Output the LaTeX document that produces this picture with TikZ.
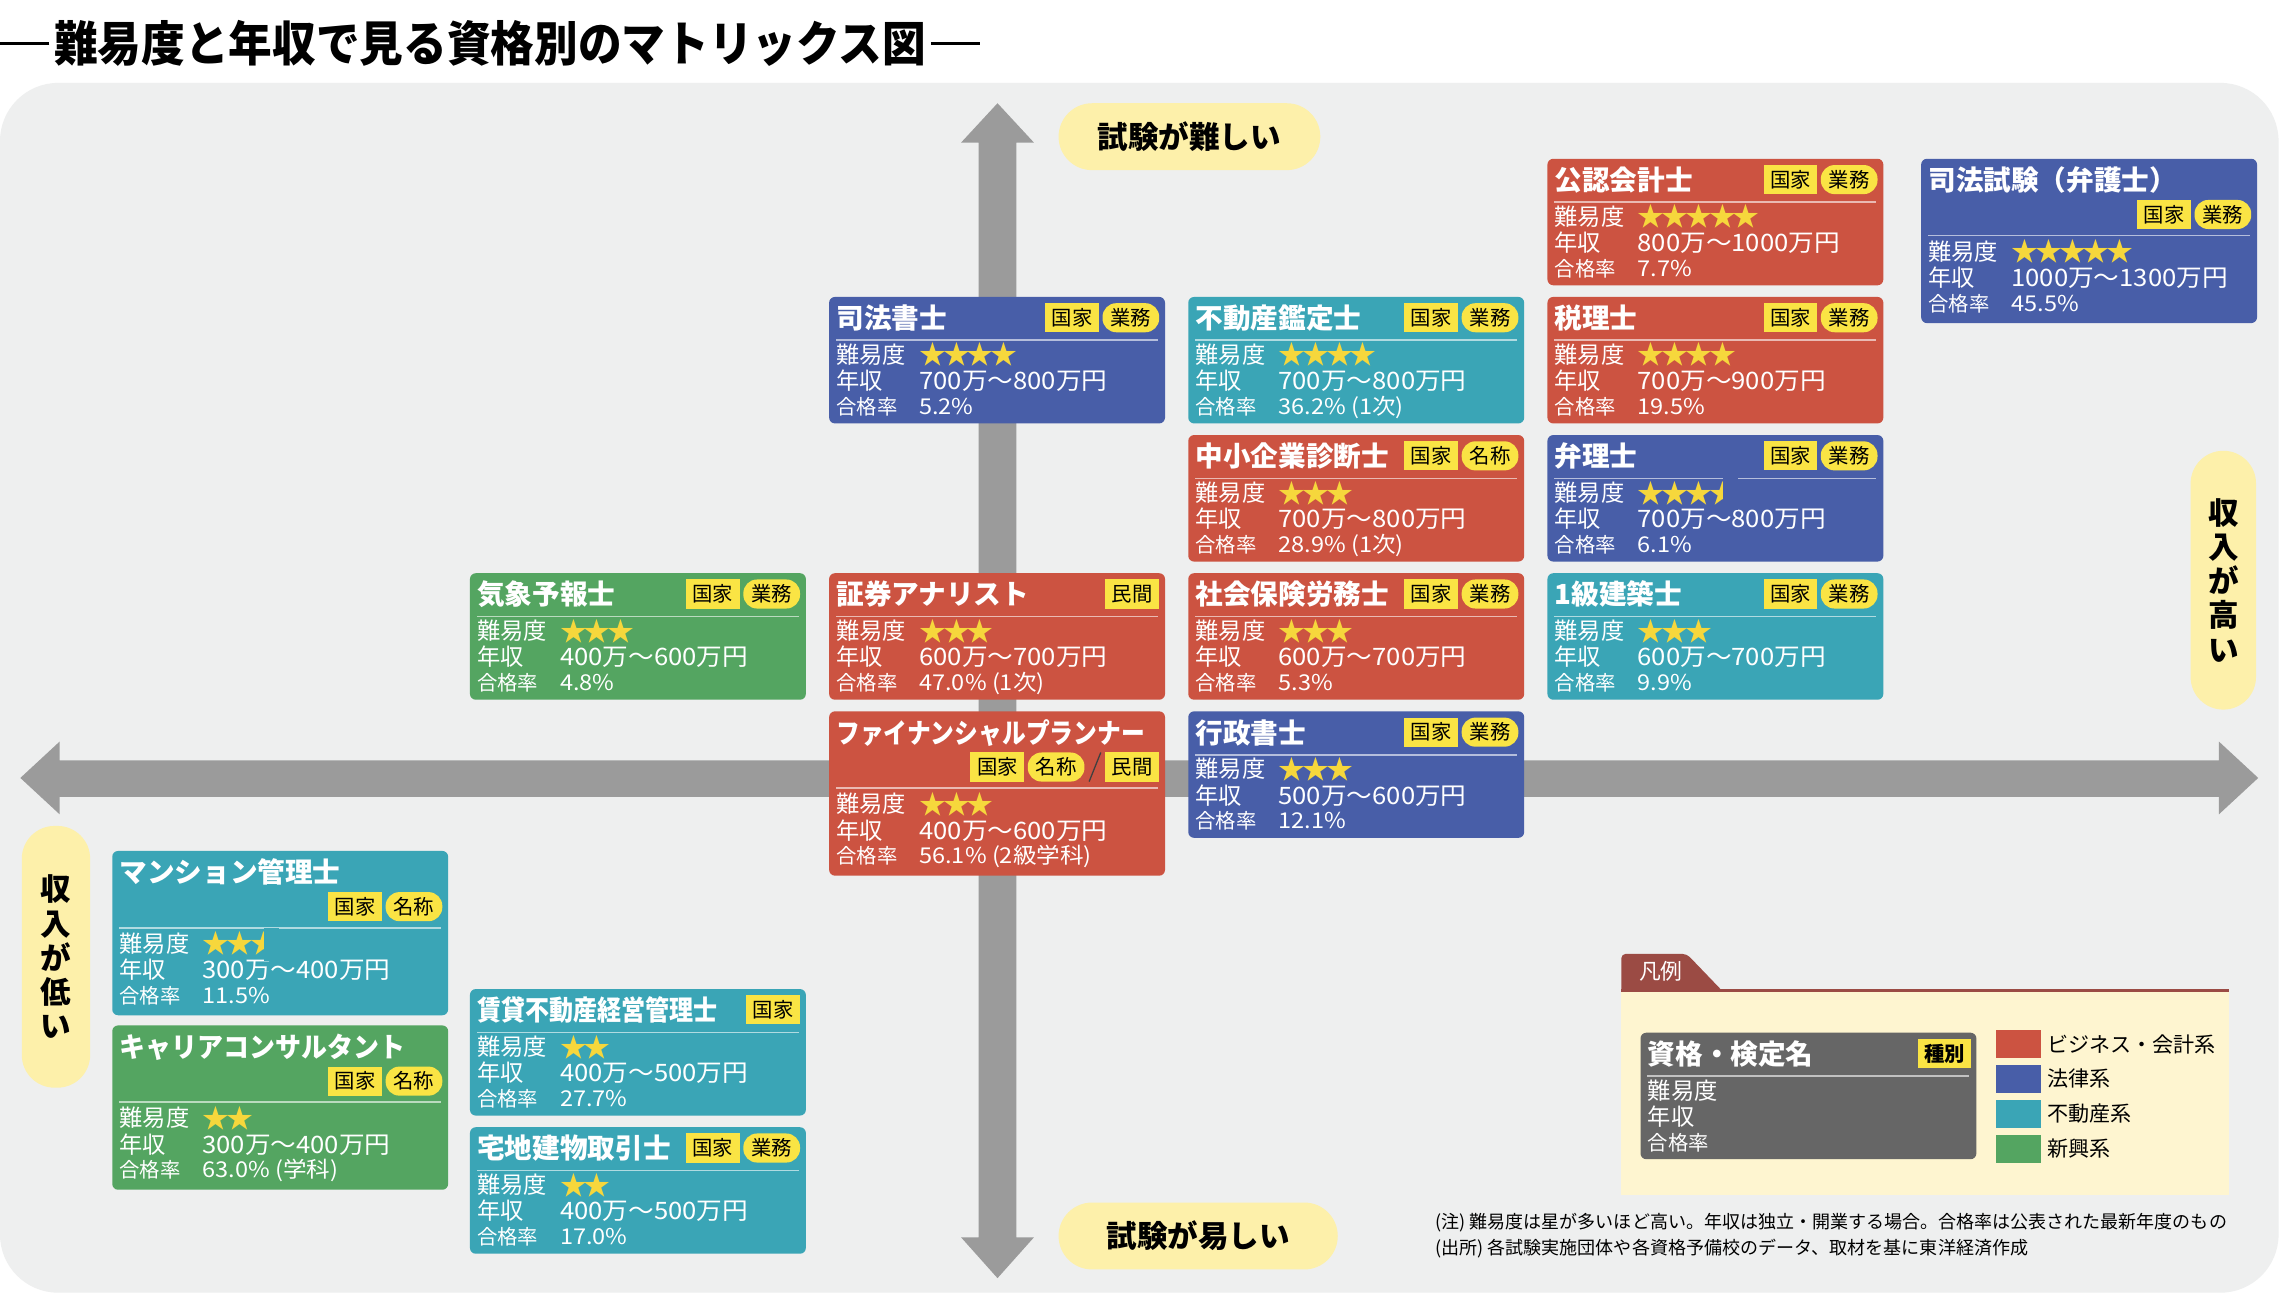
\documentclass[tikz,border=0pt]{standalone}
\usepackage{fontspec}
\setmainfont{Noto Sans CJK JP}
\usepackage{graphicx}
\usetikzlibrary{calc}
\definecolor{cRed}{HTML}{CC5341}
\definecolor{cBlue}{HTML}{485EA8}
\definecolor{cTeal}{HTML}{3AA5B6}
\definecolor{cGreen}{HTML}{54A561}
\definecolor{cGray}{HTML}{666666}
\definecolor{tagYellow}{HTML}{FAE444}
\definecolor{starYellow}{HTML}{F6D73C}
\definecolor{pillYellow}{HTML}{FDF0AA}
\definecolor{panelGray}{HTML}{EEEFEF}
\definecolor{arrowGray}{HTML}{9B9B9B}
\definecolor{legCream}{HTML}{FEF5D0}
\definecolor{legTab}{HTML}{9B4B44}
\newcommand\fsz[1]{\fontsize{#1}{#1}\selectfont}
\newcommand\sx[2]{\scalebox{#1}[1]{#2}}
\newif\ifhalfstar
\tikzset{
  cardbox/.style={rectangle, rounded corners=4, minimum width=231, inner sep=0, draw=none},
  ctitle/.style={inner sep=0, anchor=base west, text=white, font=\fsz{19}\bfseries},
  clabel/.style={inner sep=0, anchor=base west, text=white, font=\fsz{16}},
  cvalue/.style={inner sep=0, anchor=base west, text=white, font=\fsz{16.5}},
  csmall/.style={inner sep=0, anchor=base west, text=white, font=\fsz{14}},
  csmallv/.style={inner sep=0, anchor=base west, text=white, font=\fsz{15}},
  cstar/.style={inner sep=0, anchor=base west, text=starYellow, font=\fsz{18.5}},
  tagrect/.style={fill=tagYellow, minimum width=37, minimum height=20, inner sep=0, font=\fsz{14}, text=black},
  tagpill/.style={tagrect, rounded corners=9.5, minimum width=39},
  sepline/.style={draw=white, opacity=0.6, line width=1.2},
  pill/.style={fill=pillYellow, rounded corners=23, inner sep=0, font=\fsz{21}\bfseries, text=black},
  vpill/.style={fill=pillYellow, rounded corners=22.5, inner sep=0, align=center, font=\fontsize{21}{23.5}\selectfont\bfseries, text=black},
  legtxt/.style={anchor=west, inner sep=0, font=\fsz{14.5}, text=black},
  swatch/.style={minimum width=31, minimum height=19, inner sep=0},
}
\newcommand\cardA{\def\cardoff{0}\def\cardsep{30}\def\cardtagy{14.5}\def\cardht{87}\cardcore}
\newcommand\cardB{\def\cardoff{24}\def\cardsep{53}\def\cardtagy{38.5}\def\cardht{113}\cardcore}
\newcommand\cardcore[9]{%
  \node[cardbox, fill=#4, minimum height=\cardht, anchor=north west] (#1) at (#2,#3) {};
  \node[ctitle] (#1-t) at ($(#1.north west)+(5,22)$) {#5};
  \coordinate (#1-tag) at ($(#1.north east)+(-4,\cardtagy)$);
  \draw[sepline] ($(#1.north west)+(5,\cardsep)$) -- ($(#1.north east)+(-5,\cardsep)$);
  \node[clabel] (#1-l1) at ($(#1.north west)+(5,46+\cardoff)$) {難易度};
  \ifnum#7>0
    \foreach \i in {1,...,#7}{%
      \node[cstar] (#1-s\i) at ($(#1.north west)+(62+16.4*\i-16.4,47+\cardoff)$) {★};}
  \fi
  \node[clabel] (#1-l2) at ($(#1.north west)+(5,64+\cardoff)$) {年収};
  \node[cvalue] (#1-v2) at ($(#1.north west)+(62,64+\cardoff)$) {\sx{1.07}{#8}};
  \node[csmall] (#1-l3) at ($(#1.north west)+(5,81+\cardoff)$) {合格率};
  \node[csmallv] (#1-v3) at ($(#1.north west)+(62,81+\cardoff)$) {\sx{1.08}{#9}};
  \ifhalfstar
    \node[cstar] (#1-hs) at ($(#1.north west)+(62+16.4*#7,47+\cardoff)$) {★};
    \fill[#4] ($(#1-hs.base)+(0,5)$) rectangle ($(#1-hs.base east)+(1,-18)$);
  \fi
  \global\halfstarfalse
  #6{#1}%
}
\newcommand\tagsKG[1]{%
  \node[tagpill, anchor=east] (#1-g2) at (#1-tag) {業務};
  \node[tagrect, anchor=east] (#1-g1) at ($(#1-g2.west)+(-2,0)$) {国家};}
\newcommand\tagsKM[1]{%
  \node[tagpill, anchor=east] (#1-g2) at (#1-tag) {名称};
  \node[tagrect, anchor=east] (#1-g1) at ($(#1-g2.west)+(-2,0)$) {国家};}
\newcommand\tagsK[1]{%
  \node[tagrect, anchor=east] (#1-g1) at (#1-tag) {国家};}
\newcommand\tagsM[1]{%
  \node[tagrect, anchor=east] (#1-g1) at (#1-tag) {民間};}
\newcommand\tagsS[1]{%
  \node[tagrect, anchor=east, minimum width=36, font=\fsz{14}\bfseries] (#1-g1) at (#1-tag) {種別};}
\newcommand\tagsFP[1]{%
  \node[tagrect, anchor=east] (#1-g3) at (#1-tag) {民間};
  \draw[black!75, line width=0.9] ($(#1-g3.west)+(-11,10)$) -- ($(#1-g3.west)+(-3,-10)$);
  \node[tagpill, anchor=east] (#1-g2) at ($(#1-g3.west)+(-14,0)$) {名称};
  \node[tagrect, anchor=east] (#1-g1) at ($(#1-g2.west)+(-2,0)$) {国家};}
\begin{document}
\begin{tikzpicture}[x=1pt, y=-1pt]
\useasboundingbox (0,0) rectangle (1568,889);
\fill[white] (0,0) rectangle (1568,889);
% panel
\fill[panelGray, rounded corners=40] (0,57) rectangle (1567,889);
% title
\node[anchor=west, inner sep=0, font=\fsz{33}\bfseries, text=black] (ttl) at (37,30) {\sx{0.91}{難易度と年収で見る資格別のマトリックス図}};
\draw[line width=1.6] ($(ttl.west)+(-3,0)$) -- ++(-34,0);
\draw[line width=1.6] ($(ttl.east)+(3,0)$) -- ++(34,0);
% axes
\fill[arrowGray] (673,98) -- (661,98) -- (686,71) -- (711,98) -- (699,98) -- (699,851) -- (711,851) -- (686,879) -- (661,851) -- (673,851) -- cycle;
\fill[arrowGray] (41,523) -- (41,510) -- (14,535) -- (41,560) -- (41,548) -- (1526,548) -- (1526,560) -- (1553,535) -- (1526,510) -- (1526,523) -- cycle;
% axis labels
\node[pill, minimum width=180, minimum height=46] (hard) at (818,94) {試験が難しい};
\node[pill, minimum width=192, minimum height=46] (easy) at (824,850) {試験が易しい};
\node[vpill, minimum width=45, minimum height=178] (high) at (1529,399) {収\\入\\が\\高\\い};
\node[vpill, minimum width=47, minimum height=180] (low) at (38.5,658) {収\\入\\が\\低\\い};
% cards
\cardA{c1}{1064}{109}{cRed}{公認会計士}{\tagsKG}{5}{800万〜1000万円}{7.7\%}
\cardB{c2}{1321}{109}{cBlue}{司法試験（弁護士）}{\tagsKG}{5}{1000万〜1300万円}{45.5\%}
\cardA{c3}{570}{204}{cBlue}{司法書士}{\tagsKG}{4}{700万〜800万円}{5.2\%}
\cardA{c4}{817}{204}{cTeal}{不動産鑑定士}{\tagsKG}{4}{700万〜800万円}{36.2\% (1次)}
\cardA{c5}{1064}{204}{cRed}{税理士}{\tagsKG}{4}{700万〜900万円}{19.5\%}
\cardA{c6}{817}{299}{cRed}{中小企業診断士}{\tagsKM}{3}{700万〜800万円}{28.9\% (1次)}
\global\halfstartrue
\cardA{c7}{1064}{299}{cBlue}{弁理士}{\tagsKG}{3}{700万〜800万円}{6.1\%}
\cardA{c8}{323}{394}{cGreen}{気象予報士}{\tagsKG}{3}{400万〜600万円}{4.8\%}
\cardA{c9}{570}{394}{cRed}{証券アナリスト}{\tagsM}{3}{600万〜700万円}{47.0\% (1次)}
\cardA{c10}{817}{394}{cRed}{社会保険労務士}{\tagsKG}{3}{600万〜700万円}{5.3\%}
\cardA{c11}{1064}{394}{cTeal}{1級建築士}{\tagsKG}{3}{600万〜700万円}{9.9\%}
\cardB{c12}{570}{489}{cRed}{\sx{0.86}{ファイナンシャルプランナー}}{\tagsFP}{3}{400万〜600万円}{56.1\% (2級学科)}
\cardA{c13}{817}{489}{cBlue}{行政書士}{\tagsKG}{3}{500万〜600万円}{12.1\%}
\global\halfstartrue
\cardB{c14}{77}{585}{cTeal}{マンション管理士}{\tagsKM}{2}{300万〜400万円}{11.5\%}
\cardB{c15}{77}{705}{cGreen}{\sx{0.94}{キャリアコンサルタント}}{\tagsKM}{2}{300万〜400万円}{63.0\% (学科)}
\cardA{c16}{323}{680}{cTeal}{\sx{0.87}{賃貸不動産経営管理士}}{\tagsK}{2}{400万〜500万円}{27.7\%}
\cardA{c17}{323}{775}{cTeal}{宅地建物取引士}{\tagsKG}{2}{400万〜500万円}{17.0\%}
% legend
\fill[legTab, rounded corners=3] (1115,681) -- (1115,656) -- (1160,656) [sharp corners] -- (1184,681) -- cycle;
\node[anchor=west, inner sep=0, font=\fsz{15}, text=white] (legttl) at (1127,668) {凡例};
\draw[legTab, line width=2] (1115,681) -- (1533,681);
\fill[legCream] (1115,682) rectangle (1533,822);
\cardA{lg}{1128}{710}{cGray}{資格・検定名}{\tagsS}{0}{}{}
\node[swatch, fill=cRed] (sw1) at (1388,718) {};
\node[swatch, fill=cBlue] (sw2) at (1388,742) {};
\node[swatch, fill=cTeal] (sw3) at (1388,766) {};
\node[swatch, fill=cGreen] (sw4) at (1388,790) {};
\node[legtxt] (lt1) at ($(sw1.east)+(4,0)$) {ビジネス・会計系};
\node[legtxt] (lt2) at ($(sw2.east)+(4,0)$) {法律系};
\node[legtxt] (lt3) at ($(sw3.east)+(4,0)$) {不動産系};
\node[legtxt] (lt4) at ($(sw4.east)+(4,0)$) {新興系};
% notes
\node[anchor=west, inner sep=0, font=\fsz{12.4}, text=black] (note1) at (987,841) {(注) 難易度は星が多いほど高い。年収は独立・開業する場合。合格率は公表された最新年度のもの};
\node[anchor=west, inner sep=0, font=\fsz{12.4}, text=black] (note2) at (987,859) {(出所) 各試験実施団体や各資格予備校のデータ、取材を基に東洋経済作成};
\end{tikzpicture}
\end{document}
